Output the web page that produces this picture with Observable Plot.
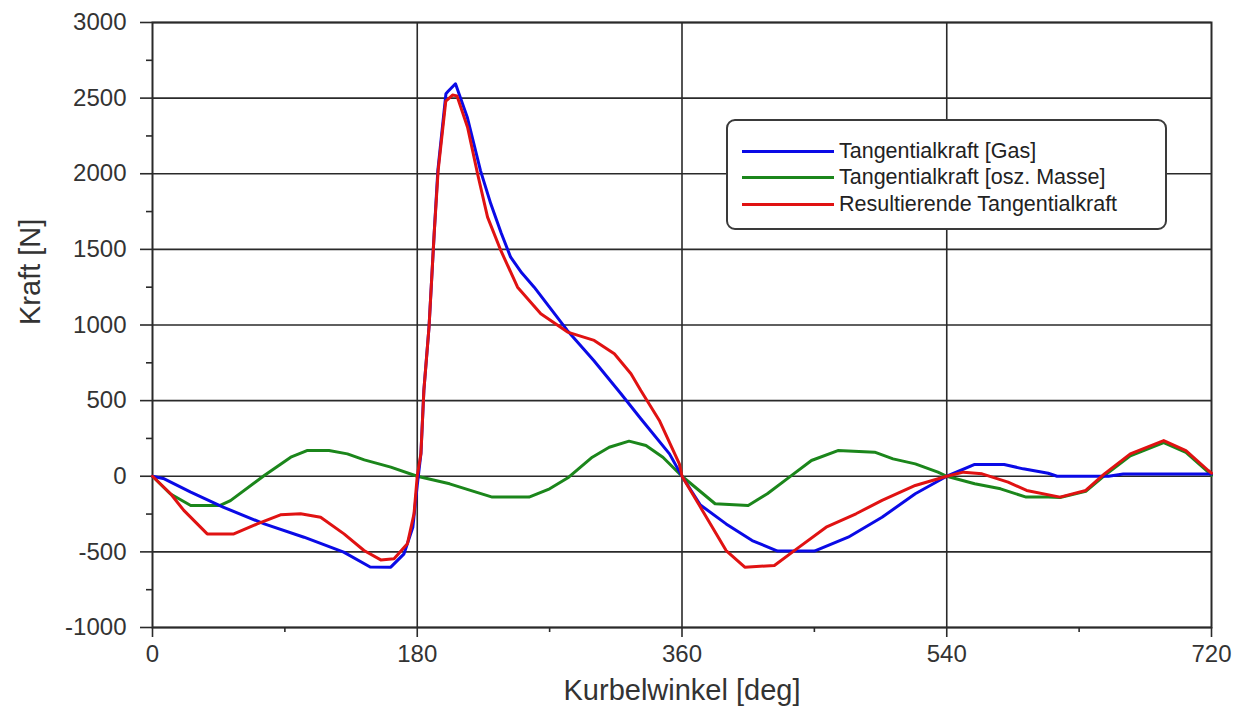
<!DOCTYPE html>
<html>
<head>
<meta charset="utf-8">
<script src="https://cdn.jsdelivr.net/npm/d3@7"></script>
<script src="https://cdn.jsdelivr.net/npm/@observablehq/plot@0.6"></script>
<style>
  html, body { margin: 0; padding: 0; background: #fff; }
  #wrap { position: relative; width: 1234px; height: 715px; font-family: "Liberation Sans", Arial, sans-serif; }
  #legend { position: absolute; left: 726px; top: 119px; width: 437px; height: 107px;
            border: 2px solid #3a3a3a; border-radius: 9px; background: #fff; box-sizing: content-box; }
  .row { position: absolute; left: 0; height: 26px; display: flex; align-items: center; }
  .sw { width: 92px; height: 3px; margin-left: 14px; margin-right: 5px; }
  .lab { font-size: 21.5px; color: #222; white-space: nowrap; }
</style>
</head>
<body>
<div id="wrap"></div>
<script>
// ---- data ----
const seriesNames = ["Tangentialkraft [Gas]", "Tangentialkraft [osz. Masse]", "Resultierende Tangentialkraft"];
const seriesColors = ["#0a0ae6", "#1b861b", "#e01212"];

const gasAngle = [0, 8, 26, 48, 76, 103, 130, 148, 162, 171, 177, 180, 182.5, 184.5, 188, 191.5, 194, 199.5, 201, 206, 214, 223, 230, 237, 243.5, 251, 259.5, 282, 300, 318.5, 332, 351.5, 360, 372.5, 390, 407.7, 425, 450, 473, 496, 518.6, 540, 559, 579, 592, 609, 615, 650, 660, 720];
const gasForce = [0, -17, -105, -204, -315, -403, -502, -600, -601, -513, -337, -60, 150, 567, 986, 1603, 2021, 2529, 2545, 2595, 2374, 2021, 1801, 1610, 1448, 1345, 1250, 964, 765, 545, 380, 148, 0, -190, -315, -425, -495, -495, -403, -271, -116, 0, 78, 78, 49, 20, 0, 0, 15, 15];

const massAngle = [0, 12, 26, 46, 53, 76, 94, 105, 120, 132.5, 144, 162, 180, 202, 220, 231, 256, 270, 283, 299, 310.5, 324, 335.5, 347, 360, 382.5, 405, 418, 433, 448, 466, 491, 503.5, 518.6, 534, 540, 559, 576.6, 594, 609, 617, 634.5, 647.2, 664.8, 687.5, 702.6, 717.8, 720];
const massForce = [0, -116, -193, -193, -161, 5, 126, 170, 170, 148, 108, 60, 0, -50, -105, -138, -138, -83, -6, 126, 192, 232, 203, 126, 0, -182, -193, -116, -6, 104, 170, 159, 115, 82, 27, 0, -50, -83, -138, -138, -140, -100, 5, 135, 222, 158, 28, 5];

const resAngle = [0, 12.3, 21.3, 37.2, 55.3, 71.2, 87, 100.7, 114.3, 130.2, 143.8, 155.2, 164.2, 173.3, 177.8, 180, 182.5, 184.5, 188, 191.5, 194.2, 199.4, 204, 207, 214.2, 221, 227.8, 236.8, 248.2, 264, 282.2, 300.3, 314, 325.3, 332, 344.6, 358.2, 360, 372.5, 390, 402.7, 422.8, 438, 458, 478.3, 496, 518.6, 540, 551.4, 564, 581.7, 594.3, 617, 634.5, 647.2, 664.8, 687.5, 702.6, 717.8, 720];
const resForce = [0, -116, -226, -381, -381, -315, -255, -248, -271, -381, -491, -553, -546, -447, -248, 0, 150, 567, 986, 1603, 2021, 2480, 2520, 2515, 2308, 2000, 1713, 1493, 1250, 1074, 953, 898, 810, 678, 567, 369, 82, 0, -204, -491, -601, -590, -480, -337, -248, -160, -61, 0, 27, 16, -39, -94, -138, -94, 16, 148, 236, 170, 38, 20];

const xMajor = [0, 180, 360, 540, 720];
const xMinor = [90, 270, 450, 630];
const xGrid = [180, 360, 540];
const yMajor = [-1000, -500, 0, 500, 1000, 1500, 2000, 2500, 3000];
const yMinor = [-750, -250, 250, 750, 1250, 1750, 2250, 2750];
const xTitle = "Kurbelwinkel [deg]";
const yTitle = "Kraft [N]";

// ---- build table ----
const rows = [];
[[gasAngle, gasForce], [massAngle, massForce], [resAngle, resForce]].forEach(([a, f], i) => {
  a.forEach((ang, j) => rows.push({series: seriesNames[i], angle: ang, force: f[j]}));
});
const drawOrder = [1, 0, 2];
const fmt = d => String(d);

const chart = Plot.plot({
  width: 1234,
  height: 715,
  marginLeft: 152,
  marginRight: 23,
  marginTop: 22,
  marginBottom: 88,
  style: {fontFamily: "Liberation Sans, Arial, sans-serif", color: "#2a2a2a", background: "#fff"},
  x: {domain: [0, 720]},
  y: {domain: [-1000, 3000]},
  marks: [
    Plot.gridY(yMajor, {stroke: "#2a2a2a", strokeOpacity: 1, strokeWidth: 1.6}),
    Plot.gridX(xGrid, {stroke: "#2a2a2a", strokeOpacity: 1, strokeWidth: 1.6}),
    Plot.frame({stroke: "#2a2a2a", strokeWidth: 2}),
    Plot.axisY(yMajor, {tickSize: 12, tickPadding: 14, fontSize: 24, tickFormat: fmt, label: null, stroke: "#2a2a2a", strokeWidth: 1.6, fill: "#333"}),
    Plot.axisY(yMinor, {tickSize: 6, text: null, label: null, stroke: "#2a2a2a", strokeWidth: 1.6}),
    Plot.axisX(xMajor, {tickSize: 10, tickPadding: 7, fontSize: 24, tickFormat: fmt, label: null, stroke: "#2a2a2a", strokeWidth: 1.6, fill: "#333"}),
    Plot.axisX(xMinor, {tickSize: 5, text: null, label: null, stroke: "#2a2a2a", strokeWidth: 1.6}),
    ...drawOrder.map(i => Plot.line(rows.filter(r => r.series === seriesNames[i]), {
      x: "angle", y: "force", stroke: seriesColors[i], strokeWidth: 3, strokeLinejoin: "round", curve: "linear"
    })),
    Plot.text([xTitle], {frameAnchor: "bottom", dy: 63, lineAnchor: "middle", fontSize: 29, fill: "#333"}),
    Plot.text([yTitle], {frameAnchor: "left", dx: -122, rotate: -90, lineAnchor: "middle", fontSize: 29, fill: "#333"})
  ]
});

const wrap = document.getElementById("wrap");
wrap.appendChild(chart);

// legend (inside plot area, as in reference)
const legend = document.createElement("div");
legend.id = "legend";
seriesNames.forEach((name, i) => {
  const row = document.createElement("div");
  row.className = "row";
  row.style.top = (17 + i * 26.5) + "px";
  const sw = document.createElement("div");
  sw.className = "sw";
  sw.style.background = seriesColors[i];
  const lab = document.createElement("span");
  lab.className = "lab";
  lab.textContent = name;
  row.appendChild(sw);
  row.appendChild(lab);
  legend.appendChild(row);
});
wrap.appendChild(legend);
</script>
</body>
</html>
